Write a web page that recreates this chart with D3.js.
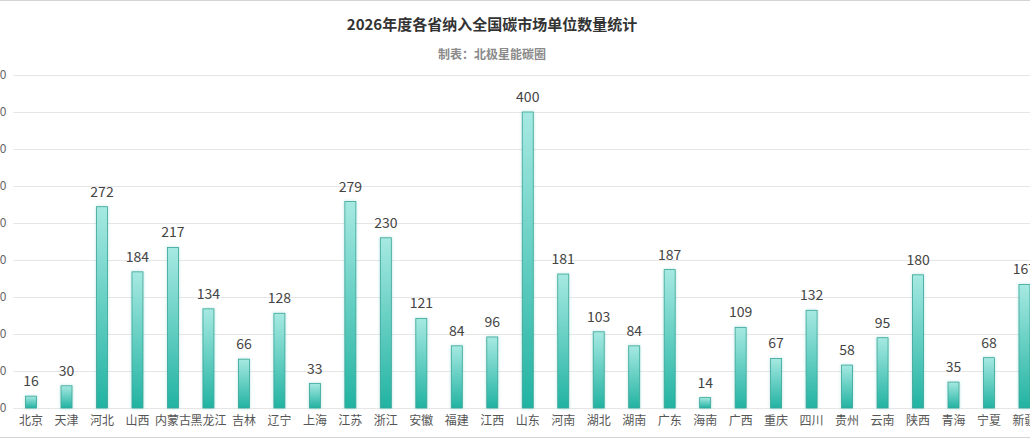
<!DOCTYPE html>
<html>
<head>
<meta charset="utf-8">
<script src="https://d3js.org/d3.v7.min.js"></script>
<style>
  body { margin: 0; background: #fff; }
  text { font-family: "Noto Sans CJK SC", "Noto Sans", sans-serif; }
</style>
</head>
<body>
<svg width="1030" height="439"></svg>
<script>
// data
const provinces = ["北京", "天津", "河北", "山西", "内蒙古", "黑龙江", "吉林", "辽宁", "上海", "江苏",
  "浙江", "安徽", "福建", "江西", "山东", "河南", "湖北", "湖南", "广东", "海南",
  "广西", "重庆", "四川", "贵州", "云南", "陕西", "青海", "宁夏", "新疆"];
const counts = [16, 30, 272, 184, 217, 134, 66, 128, 33, 279,
  230, 121, 84, 96, 400, 181, 103, 84, 187, 14,
  109, 67, 132, 58, 95, 180, 35, 68, 167];
const yTicks = [0, 50, 100, 150, 200, 250, 300, 350, 400, 450];

const title = "2026年度各省纳入全国碳市场单位数量统计";
const subtitle = "制表：北极星能碳圈";

const svg = d3.select("svg");
const W = 1030, H = 439;

// plot area runs past the right edge, like the cropped original
const plotLeft = 13.3, step = 35.48;
const plotRight = plotLeft + provinces.length * step;
const plotTop = 75, plotBottom = 408;

const x = d3.scaleBand().domain(provinces).range([plotLeft, plotRight])
  .paddingInner(0.69).paddingOuter(0.345);
const y = d3.scaleLinear().domain([0, 450]).range([plotBottom, plotTop]);

// frame lines
svg.append("line").attr("x1", 0).attr("x2", W).attr("y1", 0.5).attr("y2", 0.5)
  .attr("stroke", "#d4d4d4");
svg.append("line").attr("x1", 0).attr("x2", W).attr("y1", 437.5).attr("y2", 437.5)
  .attr("stroke", "#d4d4d4");

// titles
svg.append("text").attr("x", 492).attr("y", 30).attr("text-anchor", "middle")
  .style("font-size", "15px").style("font-weight", "bold").attr("fill", "#333")
  .text(title);
svg.append("text").attr("x", 492).attr("y", 59).attr("text-anchor", "middle")
  .style("font-size", "12px").style("font-weight", "bold").attr("fill", "#8a8a8a")
  .text(subtitle);

// gridlines + y labels
const yAxis = svg.append("g").attr("transform", `translate(${plotLeft},0)`)
  .call(d3.axisLeft(y).tickValues(yTicks).tickSize(-(plotRight - plotLeft)).tickPadding(7));
yAxis.select(".domain").remove();
yAxis.selectAll(".tick line").attr("stroke", "#e6e6e6");
yAxis.selectAll(".tick text").attr("fill", "#666").style("font-size", "12px");

// gradient per bar
const defs = svg.append("defs");
const grad = defs.append("linearGradient").attr("id", "barGrad")
  .attr("x1", 0).attr("y1", 0).attr("x2", 0).attr("y2", 1);
grad.append("stop").attr("offset", "0%").attr("stop-color", "#a6e9e2");
grad.append("stop").attr("offset", "100%").attr("stop-color", "#22b3a2");

const filt = defs.append("filter").attr("id", "glow")
  .attr("x", "-50%").attr("y", "-10%").attr("width", "200%").attr("height", "120%");
filt.append("feDropShadow").attr("dx", 0).attr("dy", 0).attr("stdDeviation", 1.5)
  .attr("flood-color", "#2bb5a5").attr("flood-opacity", 0.35);

const data = provinces.map((p, i) => ({ p, v: counts[i] }));

svg.append("g").selectAll("rect").data(data).join("rect")
  .attr("x", d => x(d.p))
  .attr("y", d => y(d.v))
  .attr("width", x.bandwidth())
  .attr("height", d => plotBottom - y(d.v))
  .attr("fill", "url(#barGrad)")
  .attr("stroke", "#3aa597")
  .attr("stroke-width", 0.8)
  .attr("filter", "url(#glow)");

// value labels
svg.append("g").selectAll("text").data(data).join("text")
  .attr("x", d => x(d.p) + x.bandwidth() / 2)
  .attr("y", d => y(d.v) - 10)
  .attr("text-anchor", "middle")
  .style("font-size", "14px")
  .attr("fill", "#444")
  .text(d => d.v);

// x labels
const xAxis = svg.append("g").attr("transform", `translate(0,${plotBottom})`)
  .call(d3.axisBottom(x).tickSize(0).tickPadding(8));
xAxis.select(".domain").remove();
xAxis.selectAll(".tick text").attr("fill", "#555").style("font-size", "12px");
</script>
</body>
</html>
